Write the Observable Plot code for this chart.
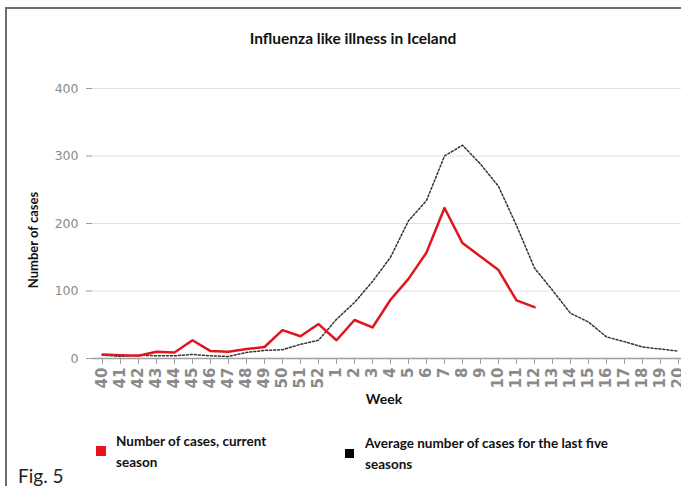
<!DOCTYPE html>
<html><head><meta charset="utf-8">
<script src="https://cdn.jsdelivr.net/npm/d3@7"></script>
<script src="https://cdn.jsdelivr.net/npm/@observablehq/plot@0.6"></script>
<style>
body{margin:0;background:#fff;}
#wrap{position:relative;width:681px;height:486px;overflow:hidden;background:#fff;font-family:Lato, sans-serif;}
.t{position:absolute;white-space:nowrap;color:#111;font-weight:bold;}
</style></head><body>
<div id="wrap">
  <div id="chart" style="position:absolute;left:0;top:0"></div>
  <div style="position:absolute;left:5px;top:7px;width:700px;height:500px;border-left:2px solid #6e6e6e;border-top:2px solid #6e6e6e;"></div>
  <div class="t" id="title" style="left:353px;top:38px;transform:translate(-50%,-50%);font-size:15.5px;">Influenza like illness in Iceland</div>
  <div class="t" id="ylab" style="left:33px;top:240px;transform:translate(-50%,-50%) rotate(-90deg);font-size:13px;">Number of cases</div>
  <div class="t" id="xlab" style="left:384px;top:398px;transform:translate(-50%,-50%);font-size:14px;">Week</div>
  <div style="position:absolute;left:96px;top:446px;width:10px;height:10px;background:#e8141b;"></div>
  <div class="t" id="leg1" style="left:116px;top:431px;font-size:13.5px;line-height:21px;">Number of cases, current<br>season</div>
  <div style="position:absolute;left:345px;top:449px;width:9px;height:9px;background:#000;"></div>
  <div class="t" id="leg2" style="left:365px;top:433px;font-size:13.5px;line-height:21px;">Average number of cases for the last five<br>seasons</div>
  <div class="t" id="fig" style="left:18px;top:475px;transform:translateY(-50%);font-size:19px;font-weight:normal;color:#222;">Fig. 5</div>
</div>
<script>
const weeks = ["40","41","42","43","44","45","46","47","48","49","50","51","52",
  "1","2","3","4","5","6","7","8","9","10","11","12","13","14","15","16","17","18","19","20"];
const currentSeason = [6,5,4,10,9,27,11,10,14,17,42,33,51,27,57,46,87,118,157,223,171,151,131,86,76];
const fiveSeasonAverage = [5,3,5,4,4,6,4,3,9,12,13,21,27,58,83,114,150,204,234,300,316,288,255,197,134,101,67,54,32,25,17,14,11];
const yTicks = [0,100,200,300,400];

const cur = currentSeason.map((v,i)=>({week:weeks[i], value:v}));
const avg = fiveSeasonAverage.map((v,i)=>({week:weeks[i], value:v}));

const chart = Plot.plot({
  width:681, height:486,
  marginLeft:92, marginRight:0, marginTop:88, marginBottom:128,
  style:{fontFamily:"DejaVu Sans, sans-serif", background:"transparent", overflow:"visible"},
  x:{type:"point", domain:weeks, range:[100,679], padding:0},
  y:{domain:[0,400]},
  marks:[
    Plot.gridY(yTicks,{stroke:"#e2e2e2", strokeOpacity:1, strokeWidth:1}),
    Plot.axisY(yTicks,{tickSize:6, tickPadding:8, fill:"#8a8a8a", stroke:"#9a9a9a", fontSize:12.5, label:null}),
    Plot.ruleY([0],{stroke:"#a0a0a0", strokeWidth:1.5}),
    Plot.axisX({tickSize:6, tickRotate:-90, tickPadding:3, fontSize:15, fontWeight:"bold", fill:"#8a8a8a", stroke:"#a0a0a0", label:null}),
    Plot.line(avg,{x:"week", y:"value", stroke:"#333", strokeWidth:1.5, strokeDasharray:"2,2"}),
    Plot.line(cur,{x:"week", y:"value", stroke:"#e0161d", strokeWidth:2.5})
  ]
});
document.getElementById("chart").appendChild(chart);
</script>
</body></html>
